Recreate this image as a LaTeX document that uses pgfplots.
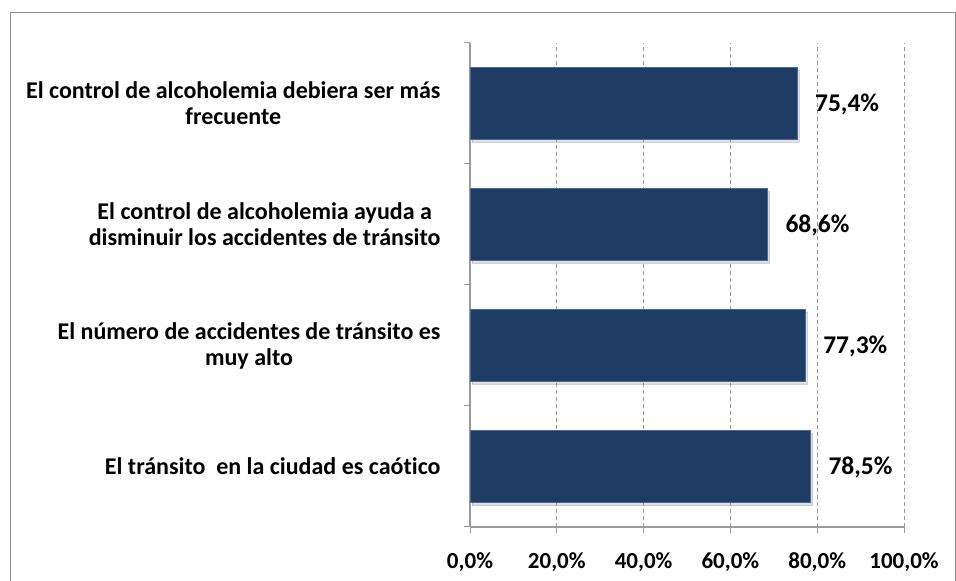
\documentclass[border=0pt]{standalone}
\usepackage{pgfplots}
\pgfplotsset{compat=1.18}
\usepackage{fontspec}
\setmainfont{Carlito}[Ligatures=NoCommon]
\usetikzlibrary{shadows}
\definecolor{barblue}{HTML}{1F3C65}
\definecolor{baredge}{HTML}{4A6896}
\definecolor{framegray}{HTML}{8C8C8C}
\definecolor{gridgray}{HTML}{9A9A9A}
\begin{document}
\begin{tikzpicture}[x=1pt,y=1pt]
\useasboundingbox (0,0) rectangle (956,581);
\draw[framegray, line width=1.3pt] (10.5,0) -- (10.5,568.5) -- (955.3,568.5) -- (955.3,0);
\begin{axis}[
  at={(470pt,54pt)}, anchor=south west,
  scale only axis, width=434pt, height=484pt,
  xbar, bar width=72pt,
  xmin=0, xmax=100, ymin=-0.5, ymax=3.5,
  axis lines=left,
  axis line style={-, draw=gridgray, line width=1.1pt},
  /pgf/number format/assume math mode=true,
  xtick={0,20,...,100},
  xticklabel={\pgfmathprintnumber[fixed,fixed zerofill,precision=1,use comma]{\tick}\%},
  xticklabel style={font=\fontsize{23}{27}\selectfont\bfseries, yshift=-16pt},
  x tick style={draw=gridgray, line width=1pt},
  tick align=outside,
  major tick length=6pt,
  xmajorgrids,
  major grid style={draw=gridgray, dashed, dash pattern=on 4pt off 3pt, line width=0.9pt},
  ytick={0,1,2,3},
  yticklabels={
    {El tránsito\ \ en la ciudad es caótico},
    {El número de accidentes de tránsito es\\muy alto},
    {El control de alcoholemia ayuda a\\disminuir los accidentes de tránsito},
    {El control de alcoholemia debiera ser más\\frecuente}},
  yticklabel style={font=\fontsize{24}{26}\selectfont\bfseries, align=center, xshift=-20pt},
  y tick style={draw=none},
  extra y ticks={-0.5,0.5,1.5,2.5,3.5},
  extra y tick labels={},
  extra y tick style={grid=none, y tick style={draw=gridgray, line width=1pt}},
  point meta=x,
  nodes near coords={\pgfmathprintnumber[fixed,fixed zerofill,precision=1,use comma]{\pgfplotspointmeta}\%},
  every node near coord/.append style={font=\fontsize{25.5}{30}\selectfont\bfseries, xshift=14pt, yshift=-1pt, black},
  clip=false,
]
\addplot[fill=barblue, draw=baredge, line width=1pt,
  drop shadow={shadow xshift=2pt, shadow yshift=-3pt, opacity=0.25}]
  coordinates {(78.5,0) (77.3,1) (68.6,2) (75.4,3)};
\end{axis}
\end{tikzpicture}
\end{document}
